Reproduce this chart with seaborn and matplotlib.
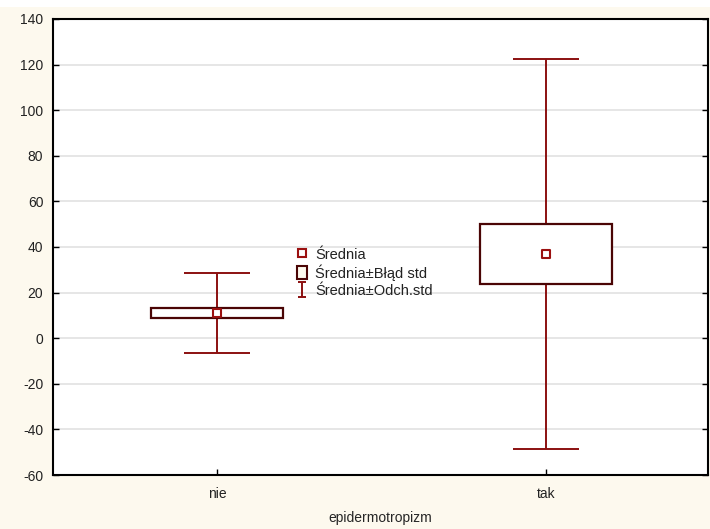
import matplotlib
matplotlib.use("Agg")
import matplotlib.pyplot as plt
import seaborn as sns
import pandas as pd
import numpy as np
from matplotlib.lines import Line2D
from matplotlib.patches import Patch, Rectangle

categories = ["nie", "tak"]
means = [11.2, 36.8]
std_err = [2.2, 13.2]
std_dev = [17.6, 85.5]
y_ticks = [-60, -40, -20, 0, 20, 40, 60, 80, 100, 120, 140]
x_label = "epidermotropizm"
legend_labels = ["Średnia", "Średnia±Błąd std", "Średnia±Odch.std"]

df = pd.DataFrame({"grupa": categories, "srednia": means, "se": std_err, "sd": std_dev})

sns.set_style("white")
plt.rcParams["font.family"] = ["Liberation Sans", "DejaVu Sans"]
plt.rcParams["axes.unicode_minus"] = False

bg = "#fdf9ee"
whisk_c = "#8b1010"
box_c = "#4a0505"
mean_c = "#9b1010"
fs = 10

fig = plt.figure(figsize=(7.10, 5.29), dpi=100, facecolor=bg)
ax = fig.add_axes([53/710, 1 - 475/529, (708-53)/710, (475-19)/529])
ax.set_facecolor("white")

pos = np.arange(len(categories))

# whiskers (mean ± SD)
ax.errorbar(pos, df["srednia"], yerr=df["sd"], fmt="none", ecolor=whisk_c,
            elinewidth=1.4, capsize=24, capthick=1.4, zorder=2)

# boxes (mean ± SE)
ax.bar(pos, 2 * df["se"], bottom=df["srednia"] - df["se"], width=0.4,
       color="white", edgecolor=box_c, linewidth=1.6, zorder=3)

# mean markers
sns.scatterplot(x=pos, y=df["srednia"], marker="s", s=30, color="white",
                edgecolor=mean_c, linewidth=1.5, zorder=4, ax=ax, legend=False)

# dummy errorbar for the legend symbol (small caps)
eb_leg = ax.errorbar([np.nan], [np.nan], yerr=[1], fmt="none", ecolor=whisk_c,
                     elinewidth=1.4, capsize=3, capthick=1.4)

ax.set_xlim(-0.498, 1.492)
ax.set_ylim(-60, 140)
ax.set_yticks(y_ticks)
ax.set_xticks(pos)
ax.set_xticklabels(categories)
ax.set_xlabel(x_label, fontsize=fs, labelpad=7)
ax.set_ylabel("")
ax.yaxis.grid(True, color="#e2e2e2", linewidth=1.2, zorder=0)
ax.xaxis.grid(False)
ax.set_axisbelow(True)

for s in ax.spines.values():
    s.set_visible(True)
    s.set_color("black")
    s.set_linewidth(1.5)

ax.tick_params(axis="both", direction="in", length=4, width=1, labelsize=fs,
               colors="black", left=True, bottom=True, right=True, top=False)
ax.tick_params(axis="y", pad=7)
ax.tick_params(axis="x", pad=9)
for lab in ax.get_xticklabels() + ax.get_yticklabels():
    lab.set_color("#222222")

handles = [
    Line2D([0], [0], marker="s", linestyle="none", markersize=5.5,
           markerfacecolor="white", markeredgecolor=mean_c, markeredgewidth=1.5),
    Patch(facecolor=bg, edgecolor=box_c, linewidth=1.5),
    eb_leg,
]
leg = fig.legend(handles, legend_labels, loc="upper left",
                 bbox_to_anchor=(297/710, 1 - 247/529), frameon=False,
                 fontsize=10.5, handlelength=0.7, handleheight=1.0,
                 handletextpad=0.55, labelspacing=0.2, borderpad=0,
                 borderaxespad=0)
for t in leg.get_texts():
    t.set_color("#222222")

# thin white strip at the top of the figure
fig.patches.append(Rectangle((0, 1 - 7/529), 1, 7/529, transform=fig.transFigure,
                             facecolor="white", edgecolor="none", zorder=-1))

fig.savefig("out.png", dpi=100, facecolor=bg)
